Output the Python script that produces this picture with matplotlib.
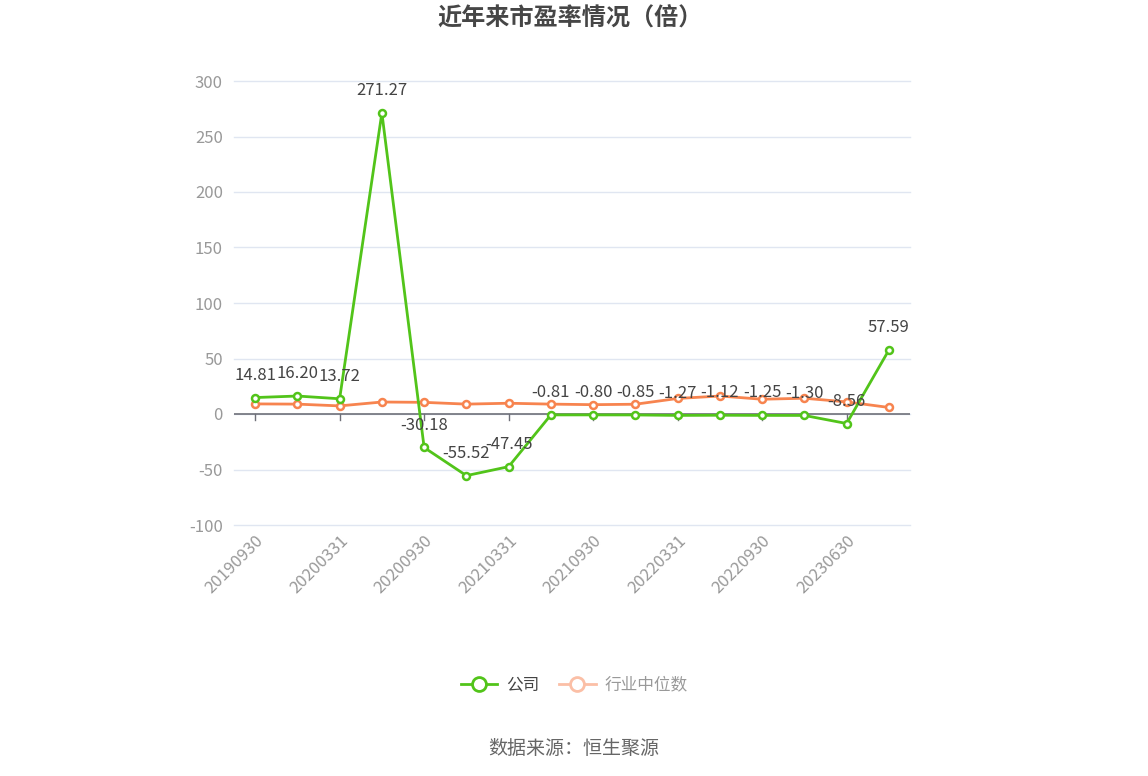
import matplotlib
matplotlib.use("Agg")
import matplotlib.pyplot as plt
from matplotlib.lines import Line2D

plt.rcParams['font.family'] = ['Noto Sans CJK SC', 'DejaVu Sans']

categories = ["20190930", "20191231", "20200331", "20200630", "20200930", "20201231",
              "20210331", "20210630", "20210930", "20211231", "20220331", "20220630",
              "20220930", "20230331", "20230630", "20230930"]
company = [14.81, 16.20, 13.72, 271.27, -30.18, -55.52, -47.45, -0.81, -0.80, -0.85,
           -1.27, -1.12, -1.25, -1.30, -8.56, 57.59]
industry = [9.1, 8.9, 7.3, 10.8, 10.5, 8.9, 9.7, 8.9, 8.4, 8.8, 14.0, 16.2, 13.3, 14.2, 10.9, 5.9]
yticks = [-100, -50, 0, 50, 100, 150, 200, 250, 300]

GREEN = "#52c41a"
ORANGE = "#f7844f"
W, H = 1148, 776
fig = plt.figure(figsize=(W / 100, H / 100), dpi=100)
ax = fig.add_axes([234 / W, 1 - 525 / H, (910 - 234) / W, (525 - 81) / H])

x = list(range(len(categories)))
ax.plot(x, industry, color=ORANGE, lw=2, marker='o', ms=5, mfc='white', mec=ORANGE, mew=1.8, zorder=3)
ax.plot(x, company, color=GREEN, lw=2, marker='o', ms=5, mfc='white', mec=GREEN, mew=1.8, zorder=4)

for xi, v in zip(x, company):
    ax.annotate(f"{v:.2f}", (xi, v), xytext=(0, 10), textcoords='offset points',
                ha='center', va='bottom', fontsize=12, color='#444444', zorder=5)

ax.set_xlim(-0.5, len(categories) - 0.5)
ax.set_ylim(-100, 300)
ax.set_yticks(yticks)
ax.set_yticklabels([str(t) for t in yticks], fontsize=12, color='#999999')
ax.grid(axis='y', color='#e0e6f1', lw=1)
for gl in ax.get_ygridlines():
    gl.set_clip_on(False)
ax.set_axisbelow(True)
for s in ax.spines.values():
    s.set_visible(False)
ax.axhline(0, color='#6e7079', lw=1.2, zorder=2)
ax.tick_params(axis='y', length=0, pad=8)

shown = x[::2]
ax.set_xticks(shown)
ax.set_xticklabels([categories[i] for i in shown], rotation=45, ha='right', va='top',
                   rotation_mode='anchor', fontsize=12, color='#999999')
ax.tick_params(axis='x', length=0, pad=5)
for i in shown:
    ax.plot([i, i], [0, -5], color='#6e7079', lw=1, clip_on=False, zorder=2)

fig.text(570 / W, 1 - 19 / H, "近年来市盈率情况（倍）", ha='center', va='center',
         fontsize=17.4, fontweight='bold', color='#464646')

# legend
h1 = Line2D([0], [0], color=GREEN, lw=2, marker='o', ms=10, mfc='white', mec=GREEN, mew=2)
h2 = Line2D([0], [0], color='#fbbfa6', lw=2, marker='o', ms=10, mfc='white', mec='#fbbfa6', mew=2)
leg = fig.legend([h1, h2], ["公司", "行业中位数"], loc='center', bbox_to_anchor=(574 / W, 1 - 685 / H),
                 ncol=2, frameon=False, fontsize=12, handlelength=2.2, columnspacing=1.2,
                 handletextpad=0.5)
leg.get_texts()[0].set_color('#444444')
leg.get_texts()[1].set_color('#999999')

fig.text(574 / W, 1 - 748 / H, "数据来源：恒生聚源", ha='center', va='center',
         fontsize=13.7, color='#666666')

fig.savefig("out.png", dpi=100)
